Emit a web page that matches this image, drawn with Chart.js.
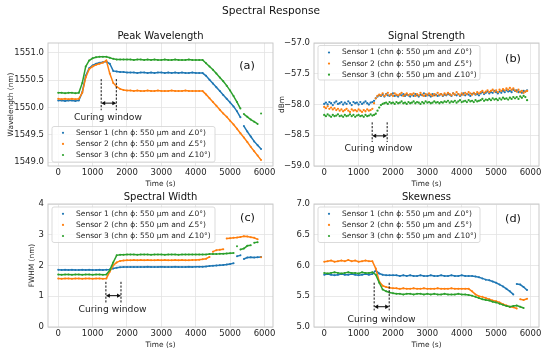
<!DOCTYPE html>
<html><head><meta charset="utf-8">
<script src="https://cdn.jsdelivr.net/npm/chart.js@4.4.1/dist/chart.umd.min.js"></script>
<style>
html,body{margin:0;padding:0;background:#fff;}
#wrap{position:relative;width:550px;height:353px;overflow:hidden;background:#fff;}
canvas{position:absolute;left:0;top:0;}
</style></head><body>
<div id="wrap">
<canvas id="ca" width="550" height="353"></canvas>
<canvas id="cb" width="550" height="353"></canvas>
<canvas id="cc" width="550" height="353"></canvas>
<canvas id="cd" width="550" height="353"></canvas>
</div>
<script>
// ---------------- DATA ----------------
const SERIES = ["Sensor 1 (chn \u03D5: 550 \u03BCm and \u22200\u00B0)", "Sensor 2 (chn \u03D5: 550 \u03BCm and \u22205\u00B0)", "Sensor 3 (chn \u03D5: 550 \u03BCm and \u222010\u00B0)"];
const XTICKS = [0, 1000, 2000, 3000, 4000, 5000, 6000];

// time (s), 100 s step — panels a, c, d
const T100 = [0,100,200,300,400,500,600,700,800,900,1000,1100,1200,1300,1400,1500,1600,1700,1800,1900,2000,2100,2200,2300,2400,2500,2600,2700,2800,2900,3000,3100,3200,3300,3400,3500,3600,3700,3800,3900,4000,4100,4200,4300,4400,4500,4600,4700,4800,4900,5000,5100,5200,5300,5400,5500,5600,5700,5800,5900];
// time (s), 50 s step — panel b
const T50 = [0,50,100,150,200,250,300,350,400,450,500,550,600,650,700,750,800,850,900,950,1000,1050,1100,1150,1200,1250,1300,1350,1400,1450,1500,1550,1600,1650,1700,1750,1800,1850,1900,1950,2000,2050,2100,2150,2200,2250,2300,2350,2400,2450,2500,2550,2600,2650,2700,2750,2800,2850,2900,2950,3000,3050,3100,3150,3200,3250,3300,3350,3400,3450,3500,3550,3600,3650,3700,3750,3800,3850,3900,3950,4000,4050,4100,4150,4200,4250,4300,4350,4400,4450,4500,4550,4600,4650,4700,4750,4800,4850,4900,4950,5000,5050,5100,5150,5200,5250,5300,5350,5400,5450,5500,5550,5600,5650,5700,5750,5800,5850,5900];

// (a) Peak wavelength (nm)
const PW_S1 = [1550.13,1550.13,1550.12,1550.13,1550.13,1550.12,1550.13,
 1550.28,1550.58,1550.72,1550.77,1550.80,1550.82,1550.83,1550.84,1550.80,
 1550.67,1550.66,1550.65,1550.65,1550.64,
 1550.64,1550.64,1550.63,1550.64,1550.64,1550.63,1550.64,1550.63,1550.64,1550.64,1550.63,1550.64,1550.63,1550.64,1550.63,1550.64,1550.63,1550.63,1550.64,1550.63,1550.63,1550.63,
 1550.58,1550.51,1550.44,1550.37,1550.30,1550.23,1550.16,1550.09,1550.02,1549.93,1549.82,1549.66,1549.56,1549.47,1549.38,1549.31,1549.24];
const PW_S2 = [1550.16,1550.15,1550.16,1550.15,1550.16,1550.15,1550.16,
 1550.27,1550.55,1550.70,1550.75,1550.78,1550.80,1550.82,1550.86,1550.62,
 1550.45,1550.38,1550.34,1550.32,1550.31,
 1550.31,1550.30,1550.31,1550.30,1550.30,1550.31,1550.30,1550.30,1550.31,1550.30,1550.30,1550.30,1550.31,1550.30,1550.30,1550.30,1550.31,1550.30,1550.30,1550.30,1550.30,1550.30,
 1550.24,1550.17,1550.10,1550.03,1549.96,1549.89,1549.83,1549.76,1549.69,1549.61,1549.53,1549.45,1549.37,1549.28,1549.20,1549.12,1549.04];
const PW_S3 = [1550.27,1550.27,1550.26,1550.27,1550.27,1550.26,1550.27,
 1550.45,1550.75,1550.86,1550.90,1550.92,1550.93,1550.93,1550.93,1550.91,
 1550.89,1550.88,1550.88,1550.88,1550.88,
 1550.88,1550.87,1550.88,1550.88,1550.87,1550.88,1550.87,1550.88,1550.87,1550.87,1550.88,1550.87,1550.87,1550.88,1550.87,1550.87,1550.87,1550.88,1550.87,1550.87,1550.87,1550.87,
 1550.81,1550.75,1550.69,1550.62,1550.55,1550.48,1550.40,1550.31,1550.21,1550.10,1549.98,1549.88,1549.83,1549.78,1549.74,1549.70,1549.89];
// times after which each series has a jump (no connecting trace)
const PW_BREAKS = [[5300], [], [5300, 5800]];

// (b) Signal strength (dBm), 50 s step
const SS_S1 = [-57.99,-57.97,-58.00,-57.96,-57.98,-58.01,-57.97,-57.95,-57.99,-57.98,
 -57.96,-58.00,-57.97,-57.99,-57.95,-57.98,-58.01,-57.96,-57.98,-57.97,
 -58.00,-57.96,-57.99,-57.97,-57.95,-57.98,-58.00,-57.97,-57.96,
 -57.94,-57.90,-57.87,-57.85,
 -57.86,-57.84,-57.87,-57.83,-57.85,-57.86,-57.84,-57.82,-57.86,-57.85,-57.87,-57.84,-57.85,-57.83,-57.86,-57.84,-57.85,-57.87,
 -57.84,-57.86,-57.83,-57.85,-57.87,-57.84,-57.85,-57.82,-57.86,-57.84,-57.85,-57.87,-57.83,-57.85,-57.84,-57.86,-57.85,-57.83,-57.86,-57.84,
 -57.85,-57.83,-57.84,-57.86,-57.82,-57.84,-57.85,-57.83,-57.86,-57.84,-57.82,-57.85,-57.83,-57.84,-57.86,-57.83,-57.82,-57.84,-57.83,-57.85,
 -57.82,-57.80,-57.83,-57.81,-57.79,-57.82,-57.80,-57.81,-57.78,-57.80,-57.82,-57.79,-57.81,-57.78,-57.80,-57.77,-57.79,-57.78,-57.80,-57.76,
 -57.78,-57.77,-57.80,-57.79,-57.81,-57.78,-57.79,-57.77];
const SS_S2 = [-58.04,-58.06,-58.03,-58.07,-58.05,-58.08,-58.06,-58.09,-58.07,-58.10,
 -58.08,-58.11,-58.09,-58.07,-58.10,-58.12,-58.08,-58.10,-58.09,-58.11,
 -58.08,-58.10,-58.12,-58.09,-58.11,-58.08,-58.10,-58.09,-58.07,
 -57.98,-57.90,-57.86,-57.84,
 -57.85,-57.82,-57.86,-57.84,-57.81,-57.85,-57.83,-57.86,-57.82,-57.84,-57.85,-57.83,-57.81,-57.86,-57.84,-57.82,-57.85,-57.83,
 -57.84,-57.82,-57.86,-57.83,-57.85,-57.81,-57.84,-57.86,-57.83,-57.85,-57.82,-57.84,-57.86,-57.83,-57.85,-57.81,-57.84,-57.83,-57.85,-57.82,
 -57.84,-57.81,-57.83,-57.85,-57.82,-57.84,-57.80,-57.83,-57.85,-57.82,-57.84,-57.81,-57.83,-57.80,-57.82,-57.84,-57.81,-57.83,-57.80,-57.82,
 -57.80,-57.78,-57.81,-57.79,-57.77,-57.80,-57.78,-57.76,-57.79,-57.77,-57.80,-57.76,-57.78,-57.75,-57.77,-57.74,-57.76,-57.73,-57.76,-57.74,
 -57.77,-57.79,-57.76,-57.80,-57.78,-57.81,-57.79,-57.78];
const SS_S3 = [-58.17,-58.19,-58.16,-58.18,-58.20,-58.17,-58.19,-58.18,-58.16,-58.19,
 -58.18,-58.20,-58.17,-58.19,-58.18,-58.16,-58.19,-58.17,-58.20,-58.18,
 -58.17,-58.19,-58.18,-58.20,-58.17,-58.19,-58.18,-58.16,-58.18,
 -58.17,-58.15,-58.10,-58.05,
 -58.01,-57.99,-57.98,-57.97,-57.99,-57.96,-57.98,-57.97,-57.99,-57.96,-57.98,-57.97,-57.95,-57.98,-57.97,-57.99,-57.96,-57.98,
 -57.97,-57.95,-57.98,-57.96,-57.97,-57.99,-57.96,-57.98,-57.95,-57.97,-57.96,-57.98,-57.97,-57.95,-57.97,-57.96,-57.98,-57.96,-57.97,-57.95,
 -57.96,-57.94,-57.97,-57.95,-57.96,-57.94,-57.97,-57.95,-57.93,-57.96,-57.95,-57.94,-57.96,-57.93,-57.95,-57.94,-57.96,-57.93,-57.95,-57.94,
 -57.93,-57.91,-57.94,-57.92,-57.93,-57.91,-57.93,-57.90,-57.92,-57.91,-57.93,-57.90,-57.92,-57.89,-57.91,-57.90,-57.92,-57.89,-57.91,-57.88,
 -57.90,-57.88,-57.91,-57.87,-57.89,-57.86,-57.88,-57.93];
const SS_BREAKS = [[], [], []];

// (c) Spectral width FWHM (nm)
const SW_S1 = [1.86,1.85,1.86,1.85,1.86,1.85,1.85,1.86,1.85,1.86,1.85,1.85,1.86,1.85,1.86,
 1.87,1.90,1.93,1.94,1.95,1.95,
 1.95,1.95,1.95,1.95,1.95,1.96,1.95,1.95,1.95,1.96,1.95,1.95,1.95,1.96,1.95,1.95,1.95,1.96,1.95,1.96,
 1.96,1.96,1.97,1.98,1.99,2.00,2.01,2.02,2.03,2.05,2.07,2.30,2.33,2.21,2.26,2.27,2.26,2.27,2.28];
const SW_S2 = [1.58,1.57,1.58,1.58,1.57,1.58,1.58,1.57,1.58,1.58,1.57,1.58,1.58,1.57,1.58,
 1.80,2.00,2.10,2.15,2.16,2.17,
 2.17,2.18,2.17,2.18,2.17,2.18,2.17,2.17,2.18,2.17,2.18,2.17,2.17,2.18,2.17,2.18,2.17,2.17,2.18,2.18,
 2.19,2.20,2.22,2.28,2.45,2.50,2.51,2.53,2.88,2.89,2.90,2.91,2.93,2.95,2.94,2.92,2.90,2.85,2.27];
const SW_S3 = [1.71,1.70,1.71,1.71,1.70,1.71,1.71,1.70,1.71,1.71,1.70,1.71,1.71,1.70,1.71,
 1.85,2.10,2.33,2.35,2.35,2.36,
 2.36,2.36,2.35,2.36,2.36,2.36,2.35,2.36,2.36,2.36,2.35,2.36,2.36,2.36,2.35,2.36,2.36,2.36,2.36,2.36,
 2.36,2.36,2.36,2.37,2.37,2.37,2.38,2.38,2.39,2.40,2.41,2.63,2.52,2.55,2.64,2.66,2.74,2.76,null];
const SW_BREAKS = [[5100, 5300], [4400, 4800, 5800], [5100, 5200, 5600]];

// (d) Skewness
const SK_S1 = [5.85,5.86,5.85,5.84,5.85,5.86,5.85,5.85,5.86,5.85,5.84,5.85,5.86,5.85,5.86,
 5.92,5.87,5.85,5.84,5.84,5.84,
 5.84,5.83,5.84,5.83,5.84,5.83,5.83,5.84,5.83,5.83,5.84,5.83,5.83,5.84,5.83,5.83,5.84,5.83,5.83,5.84,5.83,5.83,
 5.83,5.82,5.81,5.79,5.77,5.76,5.74,5.72,5.69,5.66,5.62,5.58,5.53,5.70,5.69,5.65,5.60];
const SK_S2 = [6.06,6.07,6.08,6.06,6.07,6.08,6.07,6.09,6.07,6.08,6.06,6.07,6.08,6.07,6.07,
 5.95,5.74,5.67,5.65,5.64,5.63,
 5.63,5.62,5.63,5.62,5.62,5.63,5.62,5.62,5.63,5.62,5.62,5.62,5.63,5.62,5.62,5.62,5.63,5.62,5.62,5.62,5.62,5.62,
 5.58,5.53,5.50,5.49,5.47,5.45,5.43,5.42,5.40,5.37,5.35,5.33,5.32,5.30,5.45,5.44,5.46];
const SK_S3 = [5.88,5.87,5.88,5.89,5.88,5.87,5.88,5.89,5.88,5.88,5.87,5.89,5.88,5.88,5.89,
 5.85,5.72,5.61,5.58,5.56,5.55,
 5.54,5.54,5.53,5.54,5.54,5.53,5.54,5.54,5.53,5.54,5.53,5.54,5.53,5.53,5.54,5.53,5.53,5.53,5.54,5.53,5.53,5.52,
 5.51,5.49,5.47,5.45,5.44,5.43,5.41,5.40,5.38,5.36,5.34,5.33,5.34,5.35,5.33,5.31,null];
const SK_BREAKS = [[5500], [5600], []];

// y-axis ticks
const PW_YT = [1549.0, 1549.5, 1550.0, 1550.5, 1551.0];
const SS_YT = [-59.0, -58.5, -58.0, -57.5, -57.0];
const SW_YT = [0, 1, 2, 3, 4];
const SK_YT = [5.0, 5.5, 6.0, 6.5, 7.0];

// curing window: [start, end] time; [line top, line bottom, arrow] values; [label time, label value]
const PW_CURE_T = [1250, 1690], PW_CURE_Y = [1550.52, 1549.95, 1550.08], PW_CURE_TXT = [1448, 1549.82];
const SS_CURE_T = [1395, 1831], SS_CURE_Y = [-58.29, -58.61, -58.51], SS_CURE_TXT = [1580, -58.71];
const SW_CURE_T = [1387, 1826], SW_CURE_Y = [1.47, 0.76, 1.02], SW_CURE_TXT = [1580, 0.56];
const SK_CURE_T = [1453, 1890], SK_CURE_Y = [5.72, 5.27, 5.33], SK_CURE_TXT = [1668, 5.12];

// ---------------- STYLE / LAYOUT ----------------
const FONT = "'DejaVu Sans', Verdana, sans-serif";
const COLORS = ['#1f77b4', '#ff7f0e', '#2ca02c'];
const GRID = '#e3e3e3', FRAME = '#c4c4c4', TXT = '#262626';
const XMIN = -297, XMAX = 6247;

const PANELS = [
 {id:'ca', t:T100, series:[PW_S1,PW_S2,PW_S3], brk:PW_BREAKS, line:true, yMin:1548.93, yMax:1551.18, yt:PW_YT, fmt:v=>v.toFixed(1),
  title:'Peak Wavelength', letter:'(a)', ylabel:'Wavelength (nm)', cureT:PW_CURE_T, cureY:PW_CURE_Y, cureTxt:PW_CURE_TXT,
  area:{l:48,r:273,t:43,b:166}, titleY:36.7, xlabY:184, ylabX:10.7, letterXY:[247,66],
  leg:{x:52,y:126.5,w:163,h:35.5,rows:[132.8,143.9,155.0]}, main:true},
 {id:'cb', t:T50, series:[SS_S1,SS_S2,SS_S3], brk:SS_BREAKS, line:false, yMin:-59, yMax:-57, yt:SS_YT, fmt:v=>v.toFixed(1).replace('-', '\u2212'),
  title:'Signal Strength', letter:'(b)', ylabel:'dBm', cureT:SS_CURE_T, cureY:SS_CURE_Y, cureTxt:SS_CURE_TXT,
  area:{l:314,r:539,t:43,b:166}, titleY:36.7, xlabY:184, ylabX:281.7, letterXY:[513,59],
  leg:{x:318,y:45.5,w:162,h:34.5,rows:[52.5,63.6,74.7]}},
 {id:'cc', t:T100, series:[SW_S1,SW_S2,SW_S3], brk:SW_BREAKS, line:true, yMin:0, yMax:4, yt:SW_YT, fmt:v=>String(v),
  title:'Spectral Width', letter:'(c)', ylabel:'FWHM (nm)', cureT:SW_CURE_T, cureY:SW_CURE_Y, cureTxt:SW_CURE_TXT,
  area:{l:48,r:273,t:204,b:327}, titleY:197.3, xlabY:345, ylabX:31.7, letterXY:[247.5,218.5],
  leg:{x:52,y:207,w:163,h:35.5,rows:[213.8,224.9,236.0]}},
 {id:'cd', t:T100, series:[SK_S1,SK_S2,SK_S3], brk:SK_BREAKS, line:true, yMin:5, yMax:7, yt:SK_YT, fmt:v=>v.toFixed(1),
  title:'Skewness', letter:'(d)', ylabel:null, cureT:SK_CURE_T, cureY:SK_CURE_Y, cureTxt:SK_CURE_TXT,
  area:{l:314,r:539,t:204,b:327}, titleY:197.3, xlabY:345, ylabX:0, letterXY:[513,219],
  leg:{x:318,y:207,w:162,h:35.5,rows:[213.8,224.9,236.0]}}
];

function panelPlugin(P) {
  return {
    id: 'panel_' + P.id,
    afterDraw(chart) {
      const ctx = chart.ctx, a = chart.chartArea, xs = chart.scales.x, ys = chart.scales.y;
      ctx.save();
      ctx.strokeStyle = FRAME; ctx.lineWidth = 0.9;
      ctx.strokeRect(a.left, a.top, a.right - a.left, a.bottom - a.top);
      // curing window
      const x1 = xs.getPixelForValue(P.cureT[0]), x2 = xs.getPixelForValue(P.cureT[1]);
      const yT = ys.getPixelForValue(P.cureY[0]), yB = ys.getPixelForValue(P.cureY[1]), yA = ys.getPixelForValue(P.cureY[2]);
      ctx.strokeStyle = '#111'; ctx.lineWidth = 1;
      ctx.setLineDash([2.2, 1.5]);
      ctx.beginPath(); ctx.moveTo(x1, yT); ctx.lineTo(x1, yB); ctx.moveTo(x2, yT); ctx.lineTo(x2, yB); ctx.stroke();
      ctx.setLineDash([]);
      ctx.beginPath(); ctx.moveTo(x1 + 2, yA); ctx.lineTo(x2 - 2, yA); ctx.stroke();
      ctx.fillStyle = '#111';
      ctx.beginPath(); ctx.moveTo(x1, yA); ctx.lineTo(x1 + 4, yA - 2.2); ctx.lineTo(x1 + 4, yA + 2.2); ctx.closePath(); ctx.fill();
      ctx.beginPath(); ctx.moveTo(x2, yA); ctx.lineTo(x2 - 4, yA - 2.2); ctx.lineTo(x2 - 4, yA + 2.2); ctx.closePath(); ctx.fill();
      ctx.fillStyle = TXT; ctx.font = '9.2px ' + FONT; ctx.textAlign = 'center'; ctx.textBaseline = 'middle';
      ctx.fillText('Curing window', xs.getPixelForValue(P.cureTxt[0]), ys.getPixelForValue(P.cureTxt[1]));
      // legend
      const L = P.leg;
      ctx.fillStyle = 'rgba(255,255,255,0.82)'; ctx.strokeStyle = '#d2d2d2'; ctx.lineWidth = 0.8;
      ctx.beginPath(); ctx.roundRect(L.x, L.y, L.w, L.h, 2); ctx.fill(); ctx.stroke();
      ctx.font = '7.5px ' + FONT; ctx.textAlign = 'left'; ctx.textBaseline = 'middle';
      SERIES.forEach((s, i) => {
        ctx.fillStyle = COLORS[i];
        ctx.beginPath(); ctx.arc(L.x + 11, L.rows[i], 1.1, 0, Math.PI * 2); ctx.fill();
        ctx.fillStyle = TXT; ctx.fillText(s, L.x + 24, L.rows[i]);
      });
      ctx.font = '11.3px ' + FONT; ctx.textAlign = 'center'; ctx.fillStyle = '#111';
      ctx.fillText(P.letter, P.letterXY[0], P.letterXY[1]);
      const cx = (a.left + a.right) / 2;
      ctx.font = '10px ' + FONT; ctx.fillStyle = '#111';
      ctx.fillText(P.title, cx, P.titleY);
      ctx.font = '7.4px ' + FONT; ctx.fillStyle = TXT;
      ctx.fillText('Time (s)', cx, P.xlabY);
      if (P.ylabel) {
        ctx.save(); ctx.translate(P.ylabX, (a.top + a.bottom) / 2); ctx.rotate(-Math.PI / 2);
        ctx.fillText(P.ylabel, 0, 0); ctx.restore();
      }
      if (P.main) {
        ctx.font = '10.6px ' + FONT; ctx.fillStyle = '#111';
        ctx.fillText('Spectral Response', 271, 11);
      }
      ctx.restore();
    }
  };
}

const AXW = 40, AXH = 20;
PANELS.forEach(P => {
  const datasets = P.series.map((s, i) => ({
    label: SERIES[i],
    data: P.t.map((t, k) => ({x: t, y: s[k]})),
    borderColor: COLORS[i], backgroundColor: COLORS[i],
    showLine: P.line, borderWidth: 1.5, spanGaps: false,
    segment: {borderColor: c => (P.brk[i].includes(c.p0.parsed.x) ? 'rgba(0,0,0,0)' : undefined)},
    pointRadius: P.line ? 1.0 : 1.15, pointBorderWidth: 0, pointHoverRadius: 0,
    order: 3 - i
  }));
  new Chart(document.getElementById(P.id), {
    type: 'scatter',
    data: {datasets},
    options: {
      responsive: false, animation: false, events: [],
      layout: {padding: {left: P.area.l - AXW, right: 550 - P.area.r, top: P.area.t, bottom: 353 - P.area.b - AXH}},
      plugins: {legend: {display: false}, tooltip: {enabled: false}, title: {display: false}},
      scales: {
        x: {
          type: 'linear', min: XMIN, max: XMAX,
          afterFit: s => { s.height = AXH; },
          afterBuildTicks: s => { s.ticks = XTICKS.map(v => ({value: v})); },
          grid: {color: GRID, lineWidth: 0.8, drawTicks: false},
          border: {display: false},
          ticks: {padding: 1.5, color: TXT, font: {family: FONT, size: 8.5}, maxRotation: 0, autoSkip: false, callback: v => String(v)}
        },
        y: {
          type: 'linear', min: P.yMin, max: P.yMax,
          afterFit: s => { s.width = AXW; },
          afterBuildTicks: s => { s.ticks = P.yt.map(v => ({value: v})); },
          grid: {color: GRID, lineWidth: 0.8, drawTicks: false},
          border: {display: false},
          ticks: {padding: 4, color: TXT, font: {family: FONT, size: 8.5}, autoSkip: false, callback: v => P.fmt(v)}
        }
      }
    },
    plugins: [panelPlugin(P)]
  });
});
</script>
</body></html>
